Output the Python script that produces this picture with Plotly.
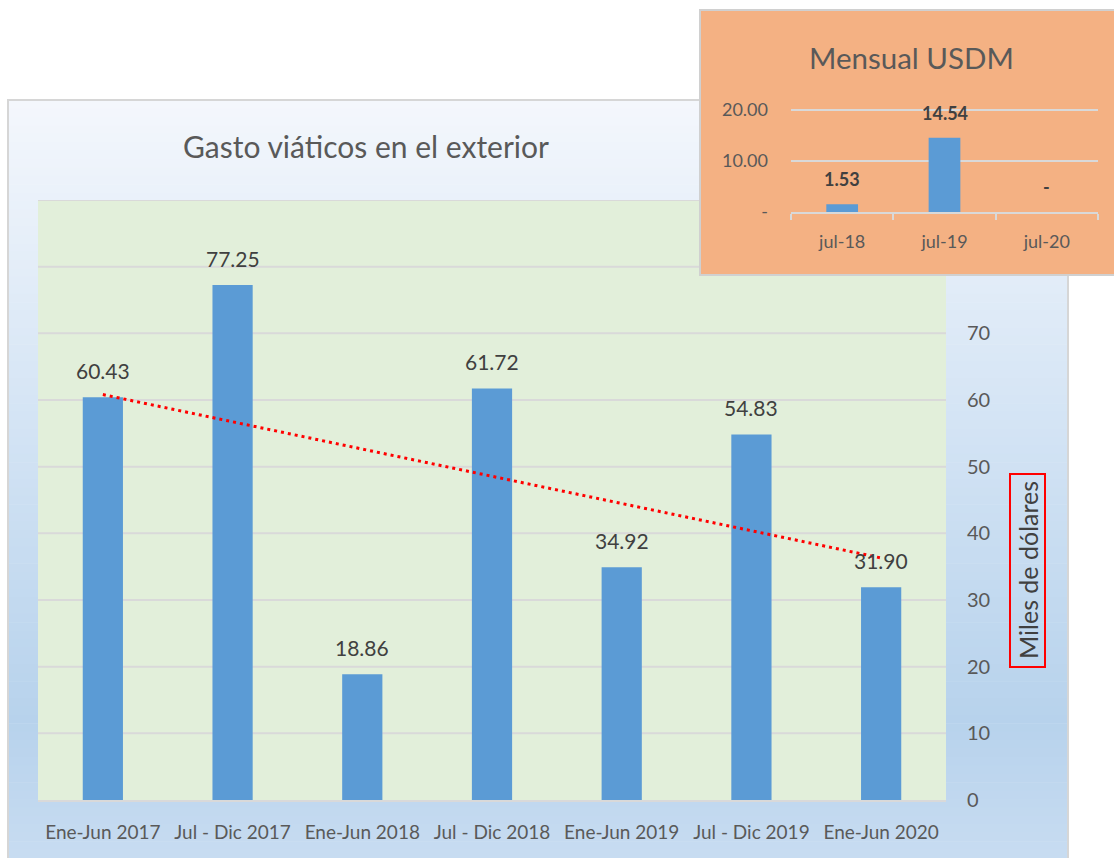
import numpy as np
import plotly.graph_objects as go

# ---------------- data ----------------
periods = ["Ene-Jun 2017", "Jul - Dic 2017", "Ene-Jun 2018", "Jul - Dic 2018",
           "Ene-Jun 2019", "Jul - Dic 2019", "Ene-Jun 2020"]
gasto = [60.43, 77.25, 18.86, 61.72, 34.92, 54.83, 31.90]
main_ticks = [0, 10, 20, 30, 40, 50, 60, 70]

months = ["jul-18", "jul-19", "jul-20"]
mensual = [1.53, 14.54, 0.0]
inset_ticks = [0, 10, 20]
inset_ticktext = ["-", "10.00", "20.00"]

title_main = "Gasto viáticos en el exterior"
title_inset = "Mensual USDM"
y_title = "Miles de dólares"

# ---------------- layout helpers ----------------
W, H = 1114, 858
FONT = "Lato"
def px(x):
    return x / W
def py(y):
    return 1 - y / H

BAR = "#5B9BD5"
GRID = "#D9D9D9"
TXT = "#595959"
LBL = "#404040"

fig = go.Figure()

# main bars
fig.add_trace(go.Bar(x=periods, y=gasto, marker=dict(color=BAR, line=dict(width=0)),
                     width=0.31, xaxis="x", yaxis="y", showlegend=False, hoverinfo="x+y"))

# linear trend line (Excel-style, least squares over category index)
idx = np.arange(len(gasto))
slope, intercept = np.polyfit(idx, gasto, 1)
fig.add_trace(go.Scatter(x=[periods[0], periods[-1]],
                         y=[intercept, intercept + slope * idx[-1]],
                         mode="lines", line=dict(color="#FF0000", width=3, dash="3px,4px"),
                         xaxis="x", yaxis="y", showlegend=False, hoverinfo="skip"))

# inset bars
fig.add_trace(go.Bar(x=months, y=mensual, marker=dict(color=BAR, line=dict(width=0)),
                     width=0.31, xaxis="x2", yaxis="y2", showlegend=False, hoverinfo="x+y"))

shapes = []
# gradient background of main chart box (piecewise colour stops by pixel row)
stops_y = [100, 400, 720, 858]
stops_c = [(0xF4, 0xF7, 0xFC), (0xD6, 0xE5, 0xF5), (0xB7, 0xD2, 0xEC), (0xC7, 0xDC, 0xF1)]
y_top, y_bot = 100, 858
nb = 90
for i in range(nb):
    ya = y_top + (y_bot - y_top) * i / nb
    yb = y_top + (y_bot - y_top) * (i + 1) / nb + 0.6
    ym = (ya + yb) / 2
    c = [np.interp(ym, stops_y, [s[k] for s in stops_c]) for k in range(3)]
    shapes.append(dict(type="rect", xref="paper", yref="paper", layer="below",
                       x0=px(8), x1=px(1068), y0=py(yb), y1=py(ya),
                       line=dict(width=0),
                       fillcolor="rgb(%d,%d,%d)" % tuple(int(round(v)) for v in c)))
# main box border
shapes.append(dict(type="rect", xref="paper", yref="paper", layer="below",
                   x0=px(8), x1=px(1068), y0=py(862), y1=py(100),
                   line=dict(color="#D6D6D6", width=2), fillcolor="rgba(0,0,0,0)"))
# plot area (green)
shapes.append(dict(type="rect", xref="paper", yref="paper", layer="below",
                   x0=px(38), x1=px(946), y0=py(800), y1=py(200),
                   line=dict(width=0), fillcolor="#E2EFDA"))
# main gridlines (as lower-layer shapes so the inset can cover them)
for v in range(10, 100, 10):
    shapes.append(dict(type="line", xref="paper", yref="y", layer="below",
                       x0=px(38), x1=px(946), y0=v, y1=v,
                       line=dict(color=GRID, width=2)))
# inset box
shapes.append(dict(type="rect", xref="paper", yref="paper", layer="below",
                   x0=px(700), x1=px(1116), y0=py(275), y1=py(10),
                   line=dict(color="#D0D0D0", width=2), fillcolor="#F4B183"))
# red box around axis title
shapes.append(dict(type="rect", xref="paper", yref="paper", layer="above",
                   x0=px(1010), x1=px(1045), y0=py(667), y1=py(474),
                   line=dict(color="#FF0000", width=2), fillcolor="rgba(0,0,0,0)"))

annotations = []
annotations.append(dict(text=title_main, xref="paper", yref="paper",
                        x=px(366), y=py(146), showarrow=False,
                        xanchor="center", yanchor="middle",
                        font=dict(family=FONT, size=30, color=TXT)))
annotations.append(dict(text=title_inset, xref="paper", yref="paper",
                        x=px(911), y=py(57), showarrow=False,
                        xanchor="center", yanchor="middle",
                        font=dict(family=FONT, size=29.5, color=TXT)))
annotations.append(dict(text=y_title, xref="paper", yref="paper",
                        x=px(1028), y=py(570), showarrow=False, textangle=-90,
                        xanchor="center", yanchor="middle",
                        font=dict(family=FONT, size=25, color=LBL)))
for p, v in zip(periods, gasto):
    annotations.append(dict(text="%.2f" % v, x=p, y=v, xref="x", yref="y",
                            showarrow=False, yshift=27, yanchor="middle",
                            xanchor="center",
                            font=dict(family=FONT, size=21, color=LBL)))
for m, v in zip(months, mensual):
    annotations.append(dict(text=("%.2f" % v) if v else "-", x=m, y=v, xref="x2", yref="y2",
                            showarrow=False, yshift=25, yanchor="middle",
                            xanchor="center",
                            font=dict(family=FONT, size=18, color=LBL, weight="bold")))

fig.update_layout(
    width=W, height=H,
    margin=dict(l=0, r=0, t=0, b=0),
    paper_bgcolor="white",
    plot_bgcolor="rgba(0,0,0,0)",
    font=dict(family=FONT, color=TXT),
    shapes=shapes,
    annotations=annotations,
    xaxis=dict(domain=[px(38), px(946)], anchor="y", type="category",
               showgrid=False, showline=True, linecolor=GRID, linewidth=2,
               ticks="", ticklabelstandoff=14, automargin=False,
               tickfont=dict(family=FONT, size=19, color=TXT)),
    yaxis=dict(domain=[py(800), py(200)], anchor="x", side="right",
               range=[0, 90], tickvals=main_ticks, showgrid=False, zeroline=False,
               ticks="", ticklabelstandoff=20, automargin=False,
               tickfont=dict(family=FONT, size=20, color=TXT)),
    xaxis2=dict(domain=[px(791), px(1098)], anchor="y2", type="category",
                showgrid=False, showline=True, linecolor=GRID, linewidth=2,
                ticks="outside", tickson="boundaries", ticklen=6, tickcolor=GRID,
                tickwidth=2, ticklabelstandoff=12, automargin=False,
                tickfont=dict(family=FONT, size=18, color=TXT)),
    yaxis2=dict(domain=[py(212), py(108.5)], anchor="x2", range=[0, 20.3],
                tickvals=inset_ticks, ticktext=inset_ticktext,
                showgrid=True, gridcolor=GRID, gridwidth=2, zeroline=False,
                ticks="", ticklabelstandoff=22, automargin=False,
                tickfont=dict(family=FONT, size=18, color=TXT)),
)

fig.write_html("out.html", config={"displayModeBar": False},
               post_script="document.body.style.margin='0px';document.body.style.overflow='hidden';")
